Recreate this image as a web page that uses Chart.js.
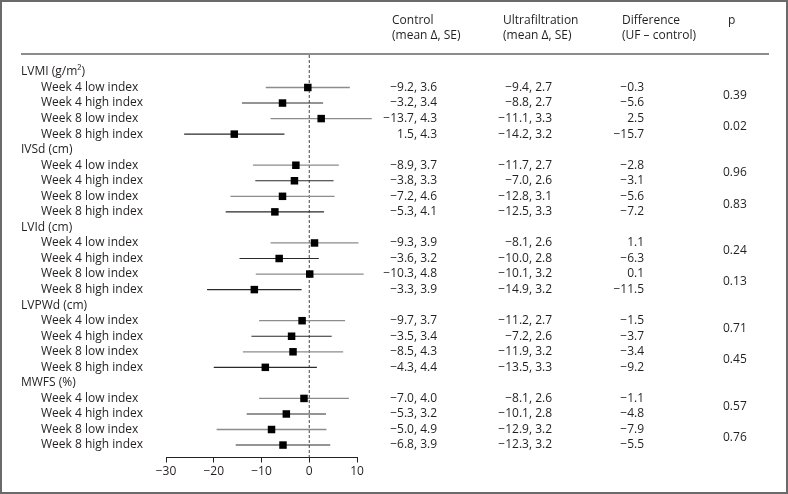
<!DOCTYPE html>
<html>
<head>
<meta charset="utf-8">
<script src="https://cdn.jsdelivr.net/npm/chart.js@4.4.1/dist/chart.umd.min.js"></script>
<style>
  html, body { margin: 0; padding: 0; background: #fff; }
  #wrap { width: 788px; height: 494px; position: relative; }
</style>
</head>
<body>
<div id="wrap"><canvas id="forest" width="788" height="494"></canvas></div>
<script>
// --- data ---
const groupLabels = ['LVMI (g/m\u00B2)', 'IVSd (cm)', 'LVId (cm)', 'LVPWd (cm)', 'MWFS (%)'];
const rowLabels = ['Week 4 low index', 'Week 4 high index', 'Week 8 low index', 'Week 8 high index'];
const headerCols = [
  ['Control', '(mean \u0394, SE)'],
  ['Ultrafiltration', '(mean \u0394, SE)'],
  ['Difference', '(UF \u2013 control)'],
  ['p', '']
];
const controlMean = [-9.2, -3.2, -13.7, 1.5, -8.9, -3.8, -7.2, -5.3, -9.3, -3.6, -10.3, -3.3, -9.7, -3.5, -8.5, -4.3, -7.0, -5.3, -5.0, -6.8];
const controlSE   = [3.6, 3.4, 4.3, 4.3, 3.7, 3.3, 4.6, 4.1, 3.9, 3.2, 4.8, 3.9, 3.7, 3.4, 4.3, 4.4, 4.0, 3.2, 4.9, 3.9];
const ufMean      = [-9.4, -8.8, -11.1, -14.2, -11.7, -7.0, -12.8, -12.5, -8.1, -10.0, -10.1, -14.9, -11.2, -7.2, -11.9, -13.5, -8.1, -10.1, -12.9, -12.3];
const ufSE        = [2.7, 2.7, 3.3, 3.2, 2.7, 2.6, 3.1, 3.3, 2.6, 2.8, 3.2, 3.2, 2.7, 2.6, 3.2, 3.3, 2.6, 2.8, 3.2, 3.2];
const diffMean    = [-0.3, -5.6, 2.5, -15.7, -2.8, -3.1, -5.6, -7.2, 1.1, -6.3, 0.1, -11.5, -1.5, -3.7, -3.4, -9.2, -1.1, -4.8, -7.9, -5.5];
const ciLow       = [-9.1, -14.1, -8.1, -26.2, -11.8, -11.3, -16.5, -17.5, -8.1, -14.6, -11.2, -21.4, -10.5, -12.1, -13.9, -20.0, -10.5, -13.1, -19.4, -15.4];
const ciHigh      = [8.5, 2.9, 13.1, -5.2, 6.2, 5.1, 5.3, 3.1, 10.3, 2.0, 11.4, -1.6, 7.5, 4.7, 7.1, 1.6, 8.3, 3.5, 3.6, 4.4];
const pValues     = ['0.39', '0.02', '0.96', '0.83', '0.24', '0.13', '0.71', '0.45', '0.57', '0.76'];
const xTicks      = [-30, -20, -10, 0, 10];

const FONT = '"Open Sans", Lato, sans-serif';
const FONT_SIZE = 12;
const TEXT = '#231f20';
const Y_TOP = -1.09, Y_BOTTOM = 24.8;

// each group: one header row followed by four rows
const rowPos = [];
groupLabels.forEach((g, gi) => { for (let k = 0; k < rowLabels.length; k++) rowPos.push(gi * 5 + 1 + k); });

const fmt = v => (v < 0 ? '\u2212' : '') + Math.abs(v).toFixed(1);

// CI segments, broken by null points; low index rows are grey, high index rows black
function ciSegments(lowIndex) {
  const pts = [];
  rowPos.forEach((y, i) => {
    if ((i % 2 === 0) !== lowIndex) return;
    pts.push({ x: ciLow[i], y: y }, { x: ciHigh[i], y: y }, { x: ciHigh[i], y: null });
  });
  return pts;
}

const tablePlugin = {
  id: 'forestTable',
  afterDraw(chart) {
    const { ctx } = chart;
    const ys = chart.scales.y;
    ctx.save();
    // outer frame
    ctx.strokeStyle = '#6a6a6a';
    ctx.lineWidth = 2;
    ctx.strokeRect(1, 1, 786, 492);
    // header rule
    ctx.strokeStyle = '#1a1a1a';
    ctx.lineWidth = 1.2;
    ctx.beginPath();
    ctx.moveTo(21, 54);
    ctx.lineTo(769, 54);
    ctx.stroke();

    ctx.fillStyle = TEXT;
    ctx.font = FONT_SIZE + 'px ' + FONT;
    ctx.textBaseline = 'middle';
    ctx.textAlign = 'left';
    const headX = [392, 503, 622, 728];
    headerCols.forEach((h, i) => {
      ctx.fillText(h[0], headX[i], 21);
      if (h[1]) ctx.fillText(h[1], headX[i], 36);
    });

    groupLabels.forEach((g, gi) => {
      ctx.textAlign = 'left';
      ctx.fillText(g, 21, ys.getPixelForValue(gi * 5));
    });
    rowPos.forEach((r, i) => {
      const y = ys.getPixelForValue(r);
      ctx.textAlign = 'left';
      ctx.fillText(rowLabels[i % 4], 41, y);
      ctx.textAlign = 'right';
      ctx.fillText(fmt(controlMean[i]) + ', ' + controlSE[i].toFixed(1), 437, y);
      ctx.fillText(fmt(ufMean[i]) + ', ' + ufSE[i].toFixed(1), 552, y);
      ctx.fillText(fmt(diffMean[i]), 644, y);
    });
    ctx.textAlign = 'left';
    pValues.forEach((p, k) => {
      const a = rowPos[k * 2], b = rowPos[k * 2 + 1];
      ctx.fillText(p, 723, (ys.getPixelForValue(a) + ys.getPixelForValue(b)) / 2);
    });
    ctx.restore();
  }
};

new Chart(document.getElementById('forest'), {
  type: 'scatter',
  data: {
    datasets: [
      {
        type: 'line',
        data: [{ x: 0, y: Y_TOP }, { x: 0, y: Y_BOTTOM }],
        borderColor: '#444',
        borderWidth: 1,
        borderDash: [3, 2],
        pointRadius: 0,
        clip: false,
        order: 4
      },
      {
        type: 'line',
        data: ciSegments(true),
        borderColor: '#8c8c8c',
        borderWidth: 1.3,
        pointRadius: 0,
        spanGaps: false,
        clip: false,
        order: 3
      },
      {
        type: 'line',
        data: ciSegments(false),
        borderColor: '#2a2a2a',
        borderWidth: 1.1,
        pointRadius: 0,
        spanGaps: false,
        clip: false,
        order: 2
      },
      {
        type: 'scatter',
        data: diffMean.map((d, i) => ({ x: d, y: rowPos[i] })),
        pointStyle: 'rect',
        pointRadius: 5.3,
        backgroundColor: '#000',
        borderWidth: 0,
        clip: false,
        order: 1
      }
    ]
  },
  options: {
    responsive: false,
    animation: false,
    devicePixelRatio: 1,
    layout: { padding: { left: 166, right: 431, top: 55, bottom: 0 } },
    plugins: { legend: { display: false }, tooltip: { enabled: false } },
    scales: {
      x: {
        type: 'linear',
        min: xTicks[0],
        max: xTicks[xTicks.length - 1],
        afterBuildTicks(scale) { scale.ticks = xTicks.map(v => ({ value: v })); },
        afterFit(scale) { scale.height = 36.5; },
        grid: { drawOnChartArea: false, tickLength: 5, tickColor: '#222', tickWidth: 1 },
        border: { display: true, color: '#222', width: 1 },
        ticks: {
          color: TEXT,
          padding: 2,
          maxRotation: 0,
          font: { family: FONT, size: FONT_SIZE },
          callback: v => (v < 0 ? '\u2212' + Math.abs(v) : String(v))
        }
      },
      y: {
        type: 'linear',
        reverse: true,
        min: Y_TOP,
        max: Y_BOTTOM,
        display: false
      }
    }
  },
  plugins: [tablePlugin]
});
</script>
</body>
</html>
